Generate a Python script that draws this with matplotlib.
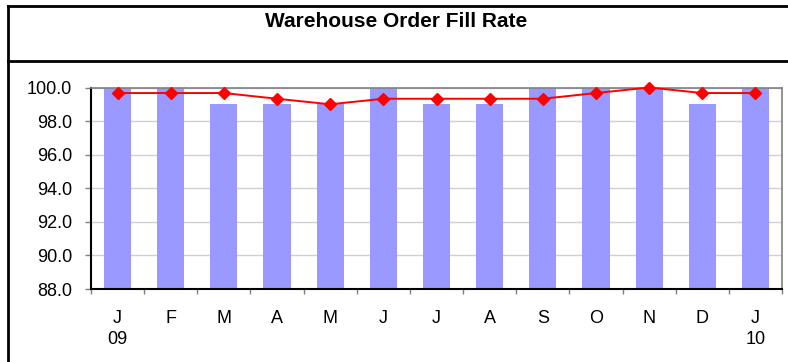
import matplotlib.pyplot as plt
from matplotlib.lines import Line2D

plt.rcParams['font.family'] = ['Liberation Sans', 'DejaVu Sans']

# monthly fill rate (bars) and 3-month rolling average (line)
months = ["J\n09", "F", "M", "A", "M", "J", "J", "A", "S", "O", "N", "D", "J\n10"]
fill_rate = [100, 100, 99, 99, 99, 100, 99, 99, 100, 100, 100, 99, 100]
rolling_avg = [99.67, 99.67, 99.67, 99.33, 99.0, 99.33, 99.33, 99.33, 99.33,
               99.67, 100.0, 99.67, 99.67]
y_ticks = [88, 90, 92, 94, 96, 98, 100]

W, H = 788, 362
PX = 72 / 100  # points per pixel at dpi 100
fig = plt.figure(figsize=(W / 100, H / 100), dpi=100)
ax = fig.add_axes([91 / W, 1 - 289 / H, (782 - 91) / W, (289 - 87.5) / H])

x = list(range(len(months)))
ax.bar(x, fill_rate, width=0.51, color="#9999FF", zorder=2)
ax.plot(x, rolling_avg, color="red", lw=1.4, marker="D", ms=6.5,
        mec="red", mfc="red", zorder=3, clip_on=False)

ax.set_ylim(88, 100)
ax.set_xlim(-0.5, len(months) - 0.5)
ax.set_yticks(y_ticks)
ax.set_yticklabels([f"{v:.1f}" for v in y_ticks], fontsize=13)
ax.yaxis.grid(True, color="#d0d0d0", lw=1, zorder=0)
ax.set_axisbelow(True)

ax.set_xticks(x)
ax.set_xticklabels(months, fontsize=13, linespacing=1.3)
ax.set_xticks([i - 0.5 for i in range(len(months) + 1)], minor=True)
ax.tick_params(axis="x", which="major", length=0, pad=15)
ax.tick_params(axis="x", which="minor", length=5 * PX, color="#808080", width=1)
ax.tick_params(axis="y", length=6 * PX, color="#808080", width=1, pad=13 * PX)

for side in ("top", "right"):
    ax.spines[side].set_color("#808080")
    ax.spines[side].set_linewidth(1.2)
for side in ("left", "bottom"):
    ax.spines[side].set_color("black")
    ax.spines[side].set_linewidth(1.5)

# chart frame and title box
frame = dict(color="black", lw=2, transform=fig.transFigure)
fig.add_artist(Line2D([8 / W, 1], [1 - 6 / H, 1 - 6 / H], **frame))
fig.add_artist(Line2D([8 / W, 1], [1 - 61 / H, 1 - 61 / H], **frame))
fig.add_artist(Line2D([8 / W, 8 / W], [0, 1 - 6 / H], **frame))

fig.text(396 / W, 1 - 26.7 / H, "Warehouse Order Fill Rate", ha="center",
         va="baseline", fontsize=15, fontweight="bold")

fig.savefig("out.png", dpi=100)
